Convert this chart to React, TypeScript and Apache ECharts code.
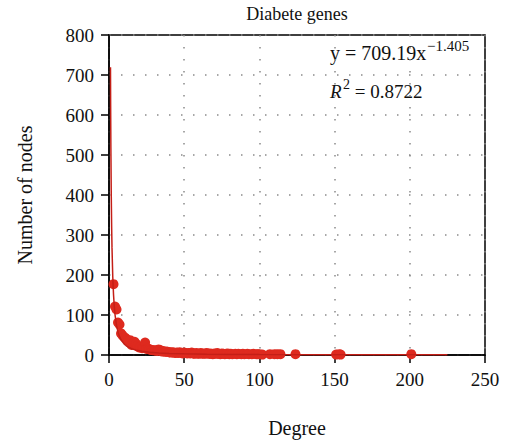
import React, { useEffect, useRef } from "react";
import * as echarts from "echarts";

const chartTitle = "Diabete genes";
const xAxisName = "Degree";
const yAxisName = "Number of nodes";

const degrees = [
  3, 4, 5, 6, 7, 8, 9, 10, 11, 12, 13, 14, 15, 16, 17, 18, 19, 20, 21, 22, 23, 24, 25, 26, 27, 28, 29, 30,
  31, 32, 33, 34, 35, 36, 37, 38, 39, 40, 41, 42, 43, 44, 45, 46, 47, 48, 49, 50, 51, 52, 53, 54, 55, 56,
  57, 58, 59, 60, 61, 62, 63, 64, 65, 66, 67, 68, 69, 70, 71, 72, 73, 74, 75, 76, 77, 78, 79, 80, 81, 82,
  84, 85, 86, 88, 89, 90, 92, 93, 95, 96, 98, 99, 100, 102, 107, 110, 112, 114, 124, 151, 153, 154, 201,
];
const nodeCounts = [
  177, 121, 114, 81, 76, 54, 49, 45, 42, 38, 36, 37, 25, 30, 33, 28, 22, 19, 20, 17, 18, 31, 15, 16, 14, 13, 12, 12,
  11, 10, 14, 12, 9, 10, 8, 9, 8, 7, 6, 7, 6, 5, 6, 5, 7, 5, 4, 6, 5, 4, 5, 4, 6, 4,
  3, 5, 4, 3, 5, 4, 3, 4, 5, 3, 4, 3, 2, 4, 3, 5, 3, 2, 4, 3, 2, 3, 4, 2, 3, 2,
  3, 2, 3, 2, 3, 2, 3, 2, 2, 3, 2, 2, 2, 1, 2, 2, 2, 2, 2, 1, 2, 1, 2,
];

// power-law fit shown on the chart: y = 709.19 x^-1.405
const fitCoef = 709.19;
const fitExp = -1.405;
const fitR2 = "0.8722";
const fitXs = [0.99, 1.1, 1.25, 1.5, 1.75, 2, 2.5, 3, 3.5, 4, 5, 6, 7, 8, 10, 12, 15, 18, 22, 27, 33, 40, 50, 65, 80, 100, 130, 160, 195, 225];

const xTicks = { min: 0, max: 250, interval: 50 };
const yTicks = { min: 0, max: 800, interval: 100 };

const FONT = "Liberation Serif";

function txt(x: number, y: number, text: string, size: number, extra: any = {}) {
  return {
    type: "text",
    x,
    y,
    style: {
      text,
      fontFamily: FONT,
      fontSize: size,
      fill: "#111",
      textAlign: "left",
      textVerticalAlign: "middle",
      ...extra,
    },
  };
}

export default function App() {
  const ref = useRef<HTMLDivElement>(null);
  useEffect(() => {
    if (!ref.current) return;
    const chart = echarts.init(ref.current, null, { renderer: "svg" });
    const points = degrees.map((d, i) => [d, nodeCounts[i]]);
    const fit = fitXs.map((x) => [x, fitCoef * Math.pow(x, fitExp)]);
    const gridLine = { show: true, lineStyle: { color: "#8a8a8a", width: 1.5, type: [1.5, 10.5] as any } };
    const axisCommon = {
      axisLine: { show: true, onZero: false, lineStyle: { color: "#000", width: 1.5 } },
      axisTick: { show: true, inside: false, length: 8, lineStyle: { color: "#000", width: 1.5 } },
      axisLabel: { color: "#111", fontFamily: FONT, fontSize: 19, margin: 15 },
      splitLine: gridLine,
      nameLocation: "middle",
      nameTextStyle: { color: "#111", fontFamily: FONT, fontSize: 20 },
    };
    chart.setOption({
      animation: false,
      backgroundColor: "#ffffff",
      textStyle: { fontFamily: FONT },
      grid: { left: 109, right: 22, top: 35, bottom: 92, show: true, borderColor: "#000", borderWidth: 1.5, backgroundColor: "transparent" },
      xAxis: {
        type: "value",
        min: xTicks.min,
        max: xTicks.max,
        interval: xTicks.interval,
        name: xAxisName,
        nameGap: 63,
        ...axisCommon,
      },
      yAxis: {
        type: "value",
        min: yTicks.min,
        max: yTicks.max,
        interval: yTicks.interval,
        name: yAxisName,
        nameGap: 74,
        nameRotate: 90,
        ...axisCommon,
      },
      series: [
        {
          type: "scatter",
          data: points,
          symbol: "circle",
          symbolSize: 10,
          itemStyle: { color: "#de2a1f", opacity: 1 },
          z: 2,
        },
        {
          type: "line",
          data: fit,
          showSymbol: false,
          symbol: "none",
          lineStyle: { color: "#c41f17", width: 1.5 },
          z: 3,
        },
      ],
      graphic: [
        txt(297, 14, chartTitle, 18, { textAlign: "center" }),
        txt(330, 53, "y = 709.19x", 20),
        txt(427, 46, "\u22121.405", 15),
        txt(330, 91, "R", 19, { fontStyle: "italic" }),
        txt(343, 84, "2", 14),
        txt(350, 91, " = " + fitR2, 19),
      ],
    });
    return () => chart.dispose();
  }, []);
  return <div ref={ref} style={{ position: "fixed", left: 0, top: 0, width: 507, height: 447 }} />;
}
